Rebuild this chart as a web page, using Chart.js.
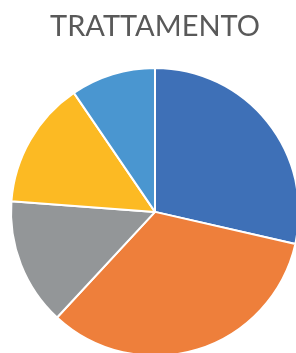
<!DOCTYPE html>
<html>
<head>
<meta charset="utf-8">
<script src="https://cdn.jsdelivr.net/npm/chart.js@4"></script>
<style>
html,body{margin:0;padding:0;background:#fff;overflow:hidden;width:296px;height:353px;}
#wrap{position:absolute;left:0;top:0;width:310px;height:370px;}
</style>
</head>
<body>
<div id="wrap"><canvas id="c" width="310" height="370"></canvas></div>
<script>
const categories = ["A", "B", "C", "D", "E"];
const values = [6, 7, 3, 3, 2];
const colors = ["#3E70B7", "#EE7F3B", "#939698", "#FCBA23", "#4A96D0"];
const titleText = "TRATTAMENTO";

new Chart(document.getElementById('c'), {
  type: 'pie',
  data: {
    labels: categories,
    datasets: [{
      data: values,
      backgroundColor: colors,
      borderColor: '#ffffff',
      borderWidth: 2
    }]
  },
  options: {
    responsive: false,
    devicePixelRatio: 1,
    animation: false,
    layout: { padding: { left: 10, right: 10, top: 0, bottom: 13 } },
    plugins: {
      legend: { display: false },
      tooltip: { enabled: false },
      title: {
        display: true,
        text: titleText,
        color: '#595959',
        font: { family: 'Lato, "Open Sans", sans-serif', size: 29, weight: 'normal' },
        padding: { top: 9, bottom: 23 }
      }
    }
  }
});
</script>
</body>
</html>
